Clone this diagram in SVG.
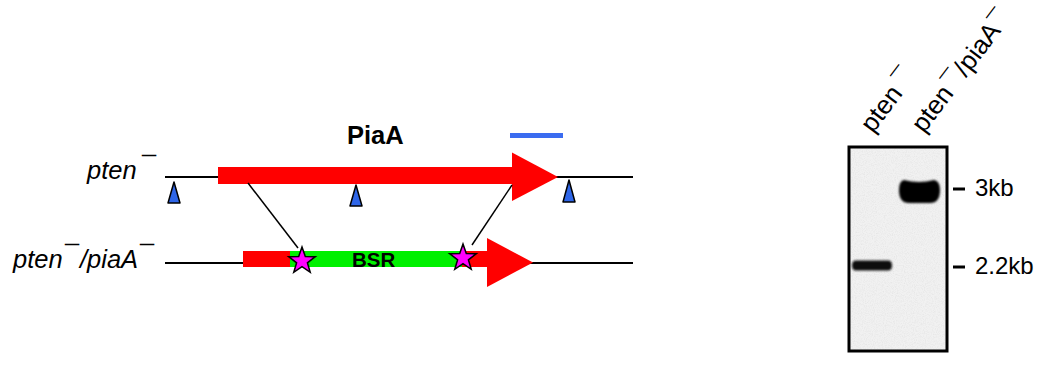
<svg xmlns="http://www.w3.org/2000/svg" width="1045" height="367" viewBox="0 0 1045 367">
  <style>
    .lbl { font-family: "Liberation Sans", Arial, sans-serif; font-size: 24px; fill: #000; }
    .it { font-style: italic; font-size: 25.5px; }
    .bold { font-weight: bold; }
    .dna { stroke: #000; stroke-width: 2; fill: none; }
    .thin { stroke: #000; stroke-width: 1.5; fill: none; }
    .gene { fill: #ff0000; }
    .bsr { fill: #00f000; }
    .site { fill: #2f66e8; stroke: #000; stroke-width: 1.5; stroke-linejoin: round; }
    .star { fill: #ff00ff; stroke: #000; stroke-width: 1.5; stroke-linejoin: miter; }
    .tick { stroke: #000; stroke-width: 3; }
    .lane { font-size: 26px; }
  </style>
  <defs>
    <!-- 5-pointed star, centred on origin -->
    <polygon id="star" points="0,-14 3.3,-4.6 13.3,-4.3 5.4,1.8 8.2,11.3 0,5.7 -8.2,11.3 -5.4,1.8 -13.3,-4.3 -3.3,-4.6"/>
    <!-- grain of the film -->
    <filter id="grain" x="0" y="0" width="100%" height="100%">
      <feTurbulence type="fractalNoise" baseFrequency="0.9" numOctaves="2" seed="4" result="n"/>
      <feColorMatrix in="n" type="matrix" values="0 0 0 0 0  0 0 0 0 0  0 0 0 0 0  0 0 0 -0.9 0.55" result="a"/>
      <feComposite in="a" in2="SourceGraphic" operator="in"/>
    </filter>
    <filter id="soft" x="-20%" y="-40%" width="140%" height="180%">
      <feGaussianBlur stdDeviation="1.3"/>
    </filter>
  </defs>

  <!-- wild-type locus -->
  <g id="locus-pten">
    <text class="lbl it" y="179"><tspan x="87">pten</tspan><tspan x="142" y="175">¯</tspan></text>
    <line class="dna" x1="165" y1="177" x2="633" y2="177"/>
    <rect class="gene" x="218" y="167" width="295" height="17"/>
    <polygon class="gene" points="512,152.5 558,177 512,201"/>
    <text class="lbl bold" x="347" y="144" style="font-size:25.5px">PiaA</text>
  </g>

  <!-- probe -->
  <g id="probe">
    <rect x="510" y="133" width="53" height="5" fill="#3b6cf0"/>
  </g>

  <!-- restriction sites -->
  <g id="sites">
    <polygon class="site" points="174,182 180,203 168,203"/>
    <polygon class="site" points="356,185 362,206 350,206"/>
    <polygon class="site" points="569,180 575,202 563,202"/>
  </g>

  <!-- disrupted locus -->
  <g id="locus-piaA">
    <text class="lbl it" y="268"><tspan x="13">pten</tspan><tspan x="65" y="264">¯</tspan><tspan x="80" y="268">/piaA</tspan><tspan x="140" y="264">¯</tspan></text>
    <line class="dna" x1="165" y1="263" x2="633" y2="263"/>
    <rect class="gene" x="243" y="251" width="245" height="16"/>
    <rect class="bsr" x="290" y="251" width="172" height="16"/>
    <polygon class="gene" points="487,238 533,262.5 487,287"/>
    <text class="lbl bold" x="352" y="267" style="font-size:20.5px">BSR</text>
  </g>

  <!-- recombination connectors -->
  <g id="connectors">
    <line class="thin" x1="248" y1="183" x2="298" y2="248"/>
    <line class="thin" x1="512" y1="185" x2="472" y2="245"/>
  </g>

  <g id="junctions">
    <use href="#star" class="star" x="302" y="261"/>
    <use href="#star" class="star" x="463" y="258"/>
  </g>

  <!-- Southern blot -->
  <g id="blot">
    <rect x="849" y="147" width="98" height="204" fill="#f1f1f1"/>
    <rect x="849" y="147" width="98" height="204" fill="#000" filter="url(#grain)" opacity="0.1"/>
    <path d="M904,180 Q919,184 934,180 Q940,181 940,190 Q940,203 930,203 L909,203 Q899,203 899,190 Q899,181 904,180 Z" fill="#000" filter="url(#soft)"/>
    <path d="M856,260.5 L888,260.5 Q892,260.5 892,265.5 Q892,270.5 888,270.5 L856,270.5 Q852,270.5 852,265.5 Q852,260.5 856,260.5 Z" fill="#111" filter="url(#soft)"/>
    <rect x="849" y="147" width="98" height="204" fill="none" stroke="#000" stroke-width="3"/>
  </g>

  <g id="lane-labels">
    <text class="lbl lane" transform="translate(873,134) rotate(-53)">pten<tspan dx="6" dy="-2">¯</tspan></text>
    <text class="lbl lane" transform="translate(924,134) rotate(-53)">pten<tspan dx="3" dy="-2">¯</tspan><tspan dx="2" dy="2">/piaA</tspan><tspan dx="1" dy="-1">¯</tspan></text>
  </g>

  <g id="markers">
    <line class="tick" x1="953" y1="189" x2="965" y2="189"/>
    <text class="lbl" x="975" y="196">3kb</text>
    <line class="tick" x1="953" y1="267" x2="965" y2="267"/>
    <text class="lbl" x="975" y="274">2.2kb</text>
  </g>
</svg>
